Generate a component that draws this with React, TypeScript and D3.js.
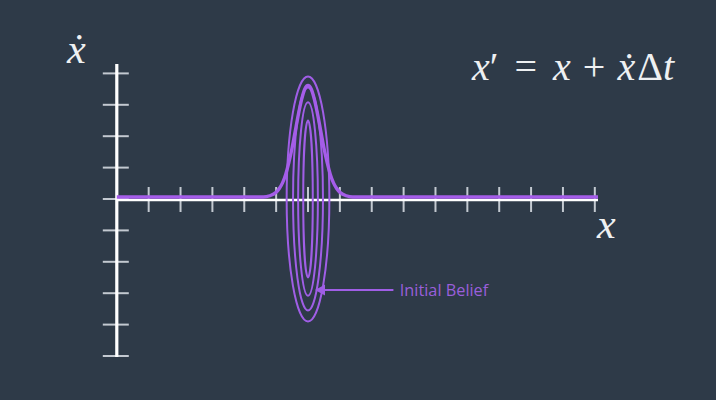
import React, { useEffect, useRef } from 'react';
import * as d3 from 'd3';

// axis ticks (data units)
const xTicks = [1, 2, 3, 4, 5, 6, 7, 8, 9, 10, 11, 12, 13, 14, 15];
const yTicks = [-5, -4, -3, -2, -1, 0, 1, 2, 3, 4];

// marginal belief over x
const beliefX = [0, 4.6, 4.8, 5.0, 5.1, 5.2, 5.3, 5.4, 5.5, 5.6, 5.7, 5.8, 5.9, 6.0, 6.1, 6.2, 6.3, 6.4, 6.5, 6.6, 6.7, 6.8, 6.9, 7.0, 7.2, 7.4, 15.1];
const beliefY = [0, 0, 0.04, 0.15, 0.27, 0.45, 0.72, 1.1, 1.56, 2.1, 2.64, 3.11, 3.44, 3.55, 3.44, 3.11, 2.64, 2.1, 1.56, 1.1, 0.72, 0.45, 0.27, 0.15, 0.04, 0, 0];

// contour ellipses of the initial belief (centre, half widths)
const beliefMean = [6, 0];
const contourRx = [0.67, 0.47, 0.31, 0.15];
const contourRy = [3.9, 3.55, 3.08, 2.5];

const labelText = 'Initial Belief';

export default function App() {
  const ref = useRef<SVGSVGElement>(null);

  useEffect(() => {
    if (!ref.current) return;
    const svg = d3.select(ref.current);
    svg.selectAll('*').remove();

    const W = 716, H = 400;
    const x = d3.scaleLinear().domain([0, 15.1]).range([116.8, 598]);
    const y = d3.scaleLinear().domain([-5, 4]).range([356, 73.4]);

    svg.append('rect').attr('width', W).attr('height', H).attr('fill', '#2e3a48');

    const tickColor = '#c3c9d1';

    // x ticks
    svg.append('g')
      .selectAll('line')
      .data(xTicks)
      .join('line')
      .attr('x1', d => x(d)).attr('x2', d => x(d))
      .attr('y1', y(0) - 12).attr('y2', y(0) + 13)
      .attr('stroke', tickColor)
      .attr('stroke-width', 2);

    // y ticks
    svg.append('g')
      .selectAll('line')
      .data(yTicks)
      .join('line')
      .attr('x1', x(0) - 14).attr('x2', x(0) + 12)
      .attr('y1', d => y(d)).attr('y2', d => y(d))
      .attr('stroke', tickColor)
      .attr('stroke-width', 2);

    // axes
    svg.append('line')
      .attr('x1', x(0)).attr('x2', x(15.1))
      .attr('y1', y(0) + 1).attr('y2', y(0) + 1)
      .attr('stroke', '#ffffff')
      .attr('stroke-width', 2.6);
    svg.append('line')
      .attr('x1', x(0)).attr('x2', x(0))
      .attr('y1', y(4.3)).attr('y2', y(-5) + 1)
      .attr('stroke', '#ffffff')
      .attr('stroke-width', 3.2);

    const purple = '#a05ee6';

    // contour ellipses
    svg.append('g')
      .selectAll('ellipse')
      .data(contourRx)
      .join('ellipse')
      .attr('cx', x(beliefMean[0]))
      .attr('cy', y(beliefMean[1]))
      .attr('rx', d => x(beliefMean[0] + d) - x(beliefMean[0]))
      .attr('ry', (_, i) => y(beliefMean[1]) - y(contourRy[i]))
      .attr('fill', 'none')
      .attr('stroke', purple)
      .attr('stroke-width', 2);

    // marginal gaussian
    const line = d3.line<number>()
      .x(d => x(d))
      .y((_, i) => y(beliefY[i]))
      .curve(d3.curveMonotoneX);
    svg.append('path')
      .attr('d', line(beliefX))
      .attr('transform', 'translate(0,-2)')
      .attr('fill', 'none')
      .attr('stroke', '#a55de9')
      .attr('stroke-width', 3.4);

    // annotation arrow
    const ay = y(-2.9);
    svg.append('line')
      .attr('x1', x(8.68)).attr('x2', x(6.4))
      .attr('y1', ay).attr('y2', ay)
      .attr('stroke', purple)
      .attr('stroke-width', 2);
    const tip = x(6.22);
    svg.append('path')
      .attr('d', `M${tip},${ay} L${tip + 10},${ay - 5.5} L${tip + 10},${ay + 5.5} Z`)
      .attr('fill', purple);
    svg.append('text')
      .attr('x', x(8.88))
      .attr('y', ay + 5.5)
      .attr('fill', '#9a5fdb')
      .attr('font-family', '"Open Sans", sans-serif')
      .attr('font-size', 16.3)
      .text(labelText);

    // axis labels
    const serif = '"Liberation Serif", "DejaVu Serif", serif';
    svg.append('text')
      .attr('x', 67).attr('y', 63)
      .attr('fill', '#eef0f2')
      .attr('font-family', serif)
      .attr('font-style', 'italic')
      .attr('font-size', 42)
      .text('ẋ');
    svg.append('text')
      .attr('x', 597).attr('y', 238)
      .attr('fill', '#eef0f2')
      .attr('font-family', serif)
      .attr('font-style', 'italic')
      .attr('font-size', 42)
      .text('x');

    // equation
    const eq = svg.append('text')
      .attr('x', 472).attr('y', 80)
      .attr('fill', '#eef0f2')
      .attr('font-family', serif)
      .attr('font-size', 40);
    eq.append('tspan').attr('font-style', 'italic').text('x');
    eq.append('tspan').text('′');
    eq.append('tspan').attr('dx', 16).text('=');
    eq.append('tspan').attr('dx', 16).attr('font-style', 'italic').text('x');
    eq.append('tspan').attr('dx', 12).text('+');
    eq.append('tspan').attr('dx', 12).attr('font-style', 'italic').text('ẋ');
    eq.append('tspan').attr('dx', 2).text('Δ');
    eq.append('tspan').attr('font-style', 'italic').text('t');
  }, []);

  return (
    <svg
      ref={ref}
      width={716}
      height={400}
      style={{ position: 'fixed', left: 0, top: 0, display: 'block' }}
    />
  );
}
